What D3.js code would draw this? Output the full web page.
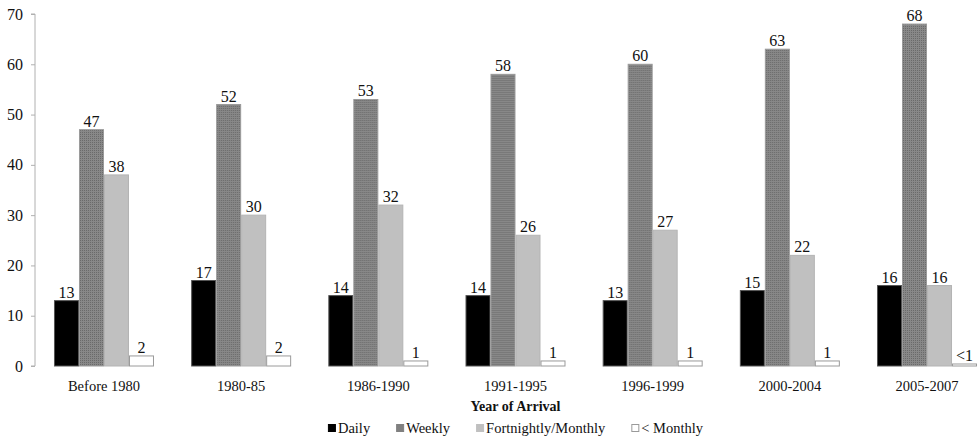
<!DOCTYPE html>
<html>
<head>
<meta charset="utf-8">
<script src="https://cdn.jsdelivr.net/npm/d3@7"></script>
<style>
  html, body { margin: 0; padding: 0; background: #fff; }
  svg { display: block; }
  text { font-family: "Liberation Serif", "Times New Roman", serif; fill: #111; }
</style>
</head>
<body>
<svg id="chart" width="979" height="440"></svg>
<script>
// Contact frequency by year of arrival (percent)
const categories = ["Before 1980", "1980-85", "1986-1990", "1991-1995", "1996-1999", "2000-2004", "2005-2007"];
const seriesNames = ["Daily", "Weekly", "Fortnightly/Monthly", "< Monthly"];
const daily = [13, 17, 14, 14, 13, 15, 16];
const weekly = [47, 52, 53, 58, 60, 63, 68];
const fortnightly = [38, 30, 32, 26, 27, 22, 16];
const lessMonthly = [2, 2, 1, 1, 1, 1, 0.4];
const lessMonthlyLabels = ["2", "2", "1", "1", "1", "1", "<1"];
const yTicks = [0, 10, 20, 30, 40, 50, 60, 70];
const axisTitle = "Year of Arrival";

const svg = d3.select("#chart");

// Dotted texture for the weekly bars
const defs = svg.append("defs");
const pat = defs.append("pattern")
  .attr("id", "dots").attr("patternUnits", "userSpaceOnUse")
  .attr("width", 2).attr("height", 2);
pat.append("rect").attr("width", 2).attr("height", 2).attr("fill", "#888");
pat.append("rect").attr("width", 1).attr("height", 1).attr("fill", "#6a6a6a");

const styles = [
  { fill: "#000", stroke: "#555" },
  { fill: "url(#dots)", stroke: "#9a9a9a" },
  { fill: "#c0c0c0", stroke: "#b4b4b4" },
  { fill: "#fff", stroke: "#9a9a9a" }
];

const series = [daily, weekly, fortnightly, lessMonthly];
const labelSets = [
  daily.map(String), weekly.map(String), fortnightly.map(String), lessMonthlyLabels
];

const y = d3.scaleLinear().domain([0, 70]).range([366, 14]);
const x0 = d3.scaleBand().domain(categories).range([35.4, 995.6])
  .paddingInner(0.271).paddingOuter(0.1355);
const x1 = d3.scaleBand().domain(seriesNames).range([0, x0.bandwidth()]);

// Y axis
const yAxis = svg.append("g").attr("transform", "translate(35,0)")
  .call(d3.axisLeft(y).tickValues(yTicks).tickSize(4).tickPadding(8).tickFormat(d3.format("d")));
yAxis.select(".domain").attr("stroke", "#b0b0b0").attr("d", `M-4,${y(70)}H0V${y(0)}H-4`);
yAxis.selectAll(".tick line").attr("stroke", "#b0b0b0");
yAxis.selectAll(".tick text").attr("font-size", 16).attr("fill", "#111");

// Bars
const groups = svg.append("g").selectAll("g")
  .data(categories).join("g")
  .attr("transform", d => `translate(${x0(d)},0)`);

groups.each(function (cat, i) {
  const g = d3.select(this);
  seriesNames.forEach((s, k) => {
    const v = series[k][i];
    g.append("rect")
      .attr("x", x1(s) + 0.5)
      .attr("y", y(v))
      .attr("width", x1.bandwidth() - 1)
      .attr("height", y(0) - y(v))
      .attr("fill", styles[k].fill)
      .attr("stroke", styles[k].stroke)
      .attr("stroke-width", 1);
    g.append("text")
      .attr("x", x1(s) + x1.bandwidth() / 2)
      .attr("y", y(v) - 3)
      .attr("text-anchor", "middle")
      .attr("font-size", 16)
      .text(labelSets[k][i]);
  });
  g.append("text")
    .attr("x", x0.bandwidth() / 2)
    .attr("y", 391)
    .attr("text-anchor", "middle")
    .attr("font-size", 14.5)
    .text(cat);
});

// Axis title
svg.append("text")
  .attr("x", (35.4 + 995.6) / 2)
  .attr("y", 411)
  .attr("text-anchor", "middle")
  .attr("font-size", 14)
  .attr("font-weight", "bold")
  .text(axisTitle);

// Legend
const legend = svg.append("g");
let cursor = 0;
const gap = 26;
seriesNames.forEach((s, k) => {
  const item = legend.append("g").attr("transform", `translate(${cursor},0)`);
  item.append("rect")
    .attr("x", 0.5).attr("y", 424.5).attr("width", 7).attr("height", 7)
    .attr("fill", k === 1 ? "#808080" : styles[k].fill)
    .attr("stroke", k === 0 ? "#000" : k === 3 ? "#9a9a9a" : (k === 1 ? "#808080" : "#c0c0c0"))
    .attr("stroke-width", 1);
  const t = item.append("text")
    .attr("x", 10).attr("y", 433)
    .attr("font-size", 14.5)
    .text(s);
  cursor += 10 + t.node().getComputedTextLength() + gap;
});
const legendWidth = cursor - gap;
legend.attr("transform", `translate(${(35.4 + 995.6) / 2 - legendWidth / 2},0)`);
</script>
</body>
</html>
